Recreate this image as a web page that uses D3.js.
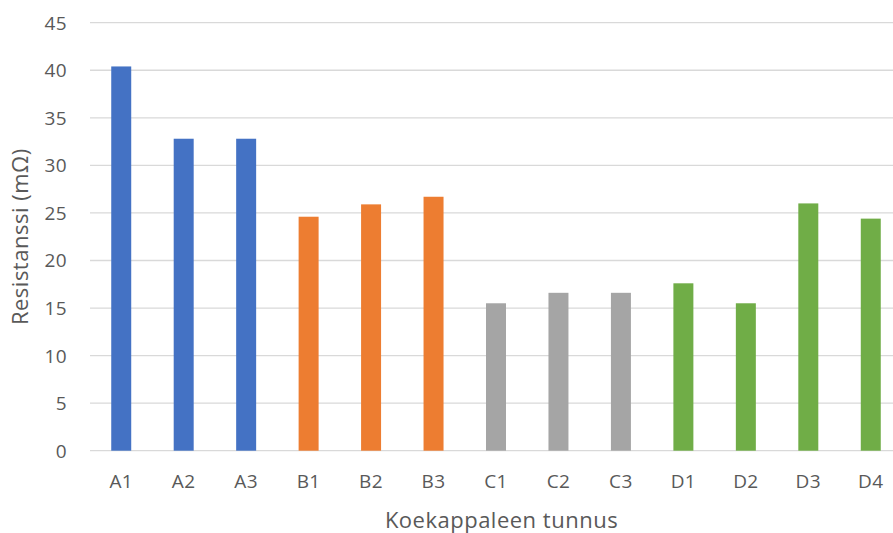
<!DOCTYPE html>
<html>
<head>
<meta charset="utf-8">
<script src="https://cdn.jsdelivr.net/npm/d3@7"></script>
<style>
  html, body { margin: 0; padding: 0; background: #fff; }
  svg { display: block; }
  text { font-family: "Open Sans", "Liberation Sans", sans-serif; fill: #595959; }
</style>
</head>
<body>
<svg id="chart" width="893" height="533"></svg>
<script>
// Test specimen IDs and measured resistance (mΩ)
const categories = ["A1", "A2", "A3", "B1", "B2", "B3", "C1", "C2", "C3", "D1", "D2", "D3", "D4"];
const groups     = ["A",  "A",  "A",  "B",  "B",  "B",  "C",  "C",  "C",  "D",  "D",  "D",  "D"];
const resistance = [40.4, 32.8, 32.8, 24.6, 25.9, 26.7, 15.5, 16.6, 16.6, 17.6, 15.5, 26.0, 24.4];
const yTicks = [0, 5, 10, 15, 20, 25, 30, 35, 40, 45];
const groupColors = { A: "#4472C4", B: "#ED7D31", C: "#A5A5A5", D: "#70AD47" };

const data = categories.map((c, i) => ({ id: c, group: groups[i], value: resistance[i] }));

const svg = d3.select("#chart");
const plot = { left: 90, right: 902, top: 22.7, bottom: 450.7 };

const x = d3.scaleBand()
  .domain(categories)
  .range([plot.left, plot.right])
  .paddingInner(0.68)
  .paddingOuter(0.34);

const y = d3.scaleLinear()
  .domain([0, 45])
  .range([plot.bottom, plot.top]);

// Horizontal gridlines
svg.append("g")
  .selectAll("line")
  .data(yTicks)
  .join("line")
  .attr("x1", plot.left)
  .attr("x2", plot.right)
  .attr("y1", d => y(d))
  .attr("y2", d => y(d))
  .attr("stroke", "#D9D9D9")
  .attr("stroke-width", 1.3);

// Y axis tick labels
const yAxis = d3.axisLeft(y).tickValues(yTicks).tickSize(0).tickPadding(0);
svg.append("g")
  .attr("transform", `translate(${plot.left - 23},0)`)
  .call(yAxis)
  .call(g => g.select(".domain").remove())
  .call(g => g.selectAll("text")
    .attr("dy", "0.34em")
    .attr("font-size", "19px")
    .attr("letter-spacing", "0.4px")
    .attr("font-family", null)
    .attr("fill", "#595959"));

// Bars
svg.append("g")
  .selectAll("rect")
  .data(data)
  .join("rect")
  .attr("x", d => x(d.id))
  .attr("width", x.bandwidth())
  .attr("y", d => y(d.value))
  .attr("height", d => y(0) - y(d.value))
  .attr("fill", d => groupColors[d.group]);

// X axis category labels
const xAxis = d3.axisBottom(x).tickSize(0).tickPadding(0);
svg.append("g")
  .attr("transform", "translate(0,488)")
  .call(xAxis)
  .call(g => g.select(".domain").remove())
  .call(g => g.selectAll("text")
    .attr("y", 0)
    .attr("dy", 0)
    .attr("font-size", "19px")
    .attr("letter-spacing", "0.4px")
    .attr("font-family", null)
    .attr("fill", "#595959"));

// Axis titles
svg.append("text")
  .attr("x", 501.5)
  .attr("y", 528)
  .attr("text-anchor", "middle")
  .attr("font-size", "22px")
  .attr("letter-spacing", "0.5px")
  .text("Koekappaleen tunnus");

svg.append("text")
  .attr("transform", `translate(28,${(plot.top + plot.bottom) / 2}) rotate(-90)`)
  .attr("text-anchor", "middle")
  .attr("font-size", "22px")
  .attr("letter-spacing", "0.5px")
  .text("Resistanssi (mΩ)");
</script>
</body>
</html>
